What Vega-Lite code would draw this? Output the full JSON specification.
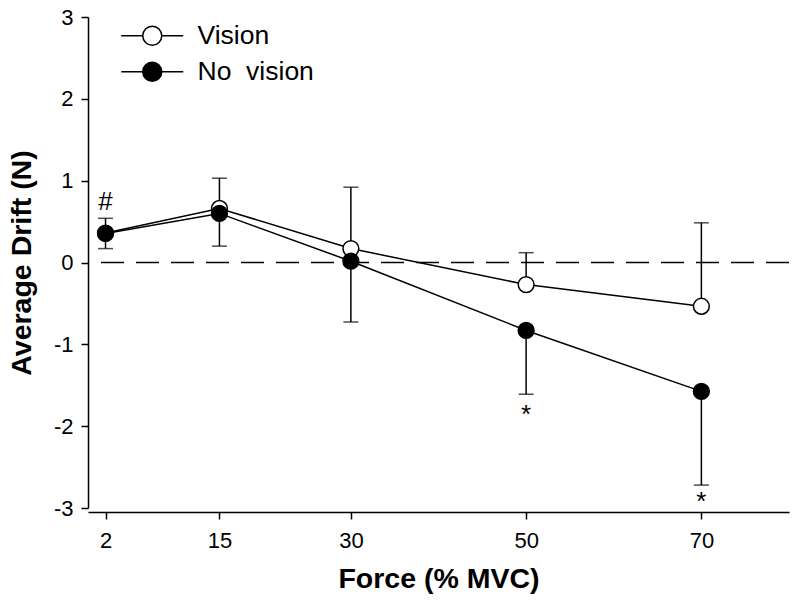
{
  "$schema": "https://vega.github.io/schema/vega-lite/v6.json",
  "width": 701,
  "height": 491,
  "autosize": {"type": "none"},
  "padding": {"left": 88, "top": 17, "right": 11, "bottom": 96},
  "background": "white",
  "config": {
    "view": {"stroke": null},
    "font": "Liberation Sans",
    "axis": {
      "domainColor": "black",
      "domainWidth": 1.5,
      "tickColor": "black",
      "tickWidth": 1.5,
      "tickSize": 7,
      "grid": false,
      "labelFont": "Liberation Sans",
      "labelFontSize": 22,
      "labelColor": "black",
      "labelPadding": 8,
      "titleFont": "Liberation Sans",
      "titleFontSize": 28.5,
      "titleFontWeight": "bold",
      "titleColor": "black"
    },
    "legend": {
      "orient": "none",
      "legendX": 51,
      "legendY": 5.5,
      "padding": 0,
      "symbolType": "M-3.1,0L-0.95,0M0.95,0L3.1,0M-0.95,0A0.95,0.95 0 1 1 0.95,0A0.95,0.95 0 1 1 -0.95,0Z",
      "symbolSize": 400,
      "symbolStrokeColor": "black",
      "symbolStrokeWidth": 1.5,
      "labelFont": "Liberation Sans",
      "labelFontSize": 26.5,
      "labelColor": "black",
      "labelOffset": 32,
      "labelLimit": 300,
      "rowPadding": 9
    }
  },
  "datasets": {
    "means": [
      {"force": 2, "group": "Vision", "drift": 0.36},
      {"force": 15, "group": "Vision", "drift": 0.66},
      {"force": 30, "group": "Vision", "drift": 0.17},
      {"force": 50, "group": "Vision", "drift": -0.27},
      {"force": 70, "group": "Vision", "drift": -0.535},
      {"force": 2, "group": "No vision", "drift": 0.355},
      {"force": 15, "group": "No vision", "drift": 0.6},
      {"force": 30, "group": "No vision", "drift": 0.016},
      {"force": 50, "group": "No vision", "drift": -0.83},
      {"force": 70, "group": "No vision", "drift": -1.575}
    ],
    "errs": [
      {"force": 2, "group": "Vision", "center": 0.36, "end": 0.54},
      {"force": 15, "group": "Vision", "center": 0.66, "end": 1.03},
      {"force": 30, "group": "Vision", "center": 0.17, "end": 0.92},
      {"force": 50, "group": "Vision", "center": -0.27, "end": 0.12},
      {"force": 70, "group": "Vision", "center": -0.535, "end": 0.485},
      {"force": 2, "group": "No vision", "center": 0.355, "end": 0.17},
      {"force": 15, "group": "No vision", "center": 0.6, "end": 0.2},
      {"force": 30, "group": "No vision", "center": 0.016, "end": -0.727},
      {"force": 50, "group": "No vision", "center": -0.83, "end": -1.61},
      {"force": 70, "group": "No vision", "center": -1.575, "end": -2.72}
    ],
    "notes": [
      {"force": 2, "y": 0.74, "label": "#"},
      {"force": 50, "y": -1.86, "label": "*"},
      {"force": 70, "y": -2.93, "label": "*"}
    ]
  },
  "layer": [
    {
      "data": {"values": [{"zero": 0}]},
      "mark": {"type": "rule", "color": "black", "strokeWidth": 1.3, "strokeDash": [23, 12]},
      "encoding": {
        "y": {"field": "zero", "type": "quantitative"}
      }
    },
    {
      "data": {"name": "errs"},
      "mark": {"type": "rule", "color": "black", "strokeWidth": 1.5},
      "encoding": {
        "x": {
          "field": "force", "type": "quantitative",
          "scale": {"domain": [0, 80], "nice": false, "zero": false},
          "axis": {"values": [2, 15, 30, 50, 70], "title": "Force (% MVC)", "offset": 4, "labelPadding": 11, "titleY": 66, "titleBaseline": "middle"}
        },
        "y": {
          "field": "center", "type": "quantitative",
          "scale": {"domain": [-3, 3], "nice": false},
          "axis": {"values": [-3, -2, -1, 0, 1, 2, 3], "labelExpr": "toString(datum.value)", "title": "Average Drift (N)", "titleX": -67, "titleBaseline": "middle", "titlePadding": 0}
        },
        "y2": {"field": "end"}
      }
    },
    {
      "data": {"name": "errs"},
      "mark": {"type": "tick", "orient": "horizontal", "color": "black", "size": 15, "thickness": 1.5},
      "encoding": {
        "x": {"field": "force", "type": "quantitative"},
        "y": {"field": "end", "type": "quantitative"}
      }
    },
    {
      "data": {"name": "means"},
      "mark": {"type": "line", "color": "black", "strokeWidth": 1.5},
      "encoding": {
        "x": {"field": "force", "type": "quantitative"},
        "y": {"field": "drift", "type": "quantitative"},
        "detail": {"field": "group"}
      }
    },
    {
      "data": {"name": "means"},
      "mark": {"type": "point", "shape": "circle", "size": 250, "stroke": "black", "strokeWidth": 1.5, "opacity": 1, "filled": false},
      "encoding": {
        "x": {"field": "force", "type": "quantitative"},
        "y": {"field": "drift", "type": "quantitative"},
        "fill": {
          "field": "group", "type": "nominal",
          "scale": {"domain": ["Vision", "No vision"], "range": ["white", "black"]},
          "legend": {"title": null, "labelExpr": "datum.label == 'No vision' ? 'No\u00a0\u00a0vision' : datum.label"}
        }
      }
    },
    {
      "data": {"name": "notes"},
      "mark": {"type": "text", "font": "Liberation Sans", "fontSize": 26, "color": "black", "baseline": "middle", "align": "center"},
      "encoding": {
        "x": {"field": "force", "type": "quantitative"},
        "y": {"field": "y", "type": "quantitative"},
        "text": {"field": "label"}
      }
    }
  ]
}
